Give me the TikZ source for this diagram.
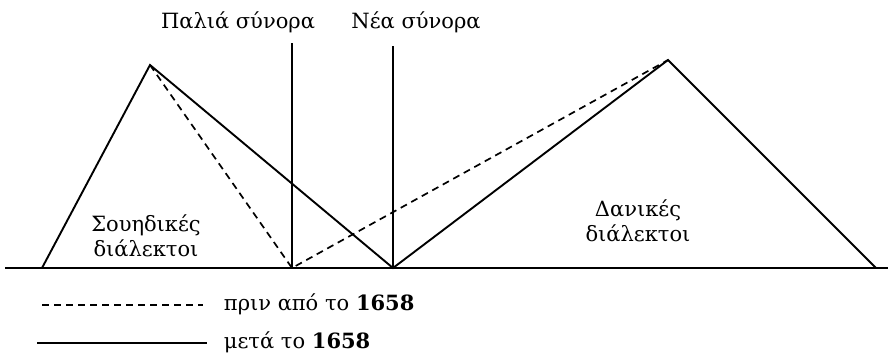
\documentclass[tikz,border=0pt]{standalone}
\usepackage{fontspec}
\setmainfont{DejaVu Serif}
\begin{document}
\begin{tikzpicture}[x=1pt, y=-1pt, line width=1.9pt,
    txt/.style={font=\fontsize{21}{25}\selectfont, inner sep=0pt},
    before/.style={line width=1.7pt, dash pattern=on 7pt off 5pt}]
  \useasboundingbox (0,0) rectangle (890,359);
  % points of the picture
  \coordinate (left) at (5,268);
  \coordinate (right) at (888,268);
  \coordinate (swfoot) at (42,268);
  \coordinate (swtop) at (150,65);
  \coordinate (oldfoot) at (292,268);
  \coordinate (oldtop) at (292,43);
  \coordinate (newfoot) at (393,268);
  \coordinate (newtop) at (393,46);
  \coordinate (dktop) at (668,60);
  \coordinate (dkfoot) at (876,268);
  % base line and the two borders
  \draw[line width=2.8pt] (left) -- (right);
  \draw[line width=2.4pt] (oldfoot) -- (oldtop);
  \draw[line width=2.4pt] (newfoot) -- (newtop);
  \node[txt, anchor=base] (oldlab) at (238,28) {Παλιά σύνορα};
  \node[txt, anchor=base] (newlab) at (416,28) {Νέα σύνορα};
  % after 1658
  \draw (swfoot) -- (swtop) -- (newfoot) -- (dktop) -- (dkfoot);
  % before 1658
  \draw[before] (swtop) -- (oldfoot) -- (dktop);
  \node[txt, align=center] (swlab) at (146,236) {Σουηδικές\\διάλεκτοι};
  \node[txt, align=center] (dklab) at (638,221) {Δανικές\\διάλεκτοι};
  % legend
  \coordinate (d0) at (42,305); \coordinate (d1) at (203,305);
  \coordinate (s0) at (37,343); \coordinate (s1) at (207,343);
  \draw[before] (d0) -- (d1);
  \draw (s0) -- (s1);
  \node[txt, anchor=west] (dlab) at (223,304) {πριν από το \textbf{1658}};
  \node[txt, anchor=west] (slab) at (223,342) {μετά το \textbf{1658}};
\end{tikzpicture}
\end{document}
